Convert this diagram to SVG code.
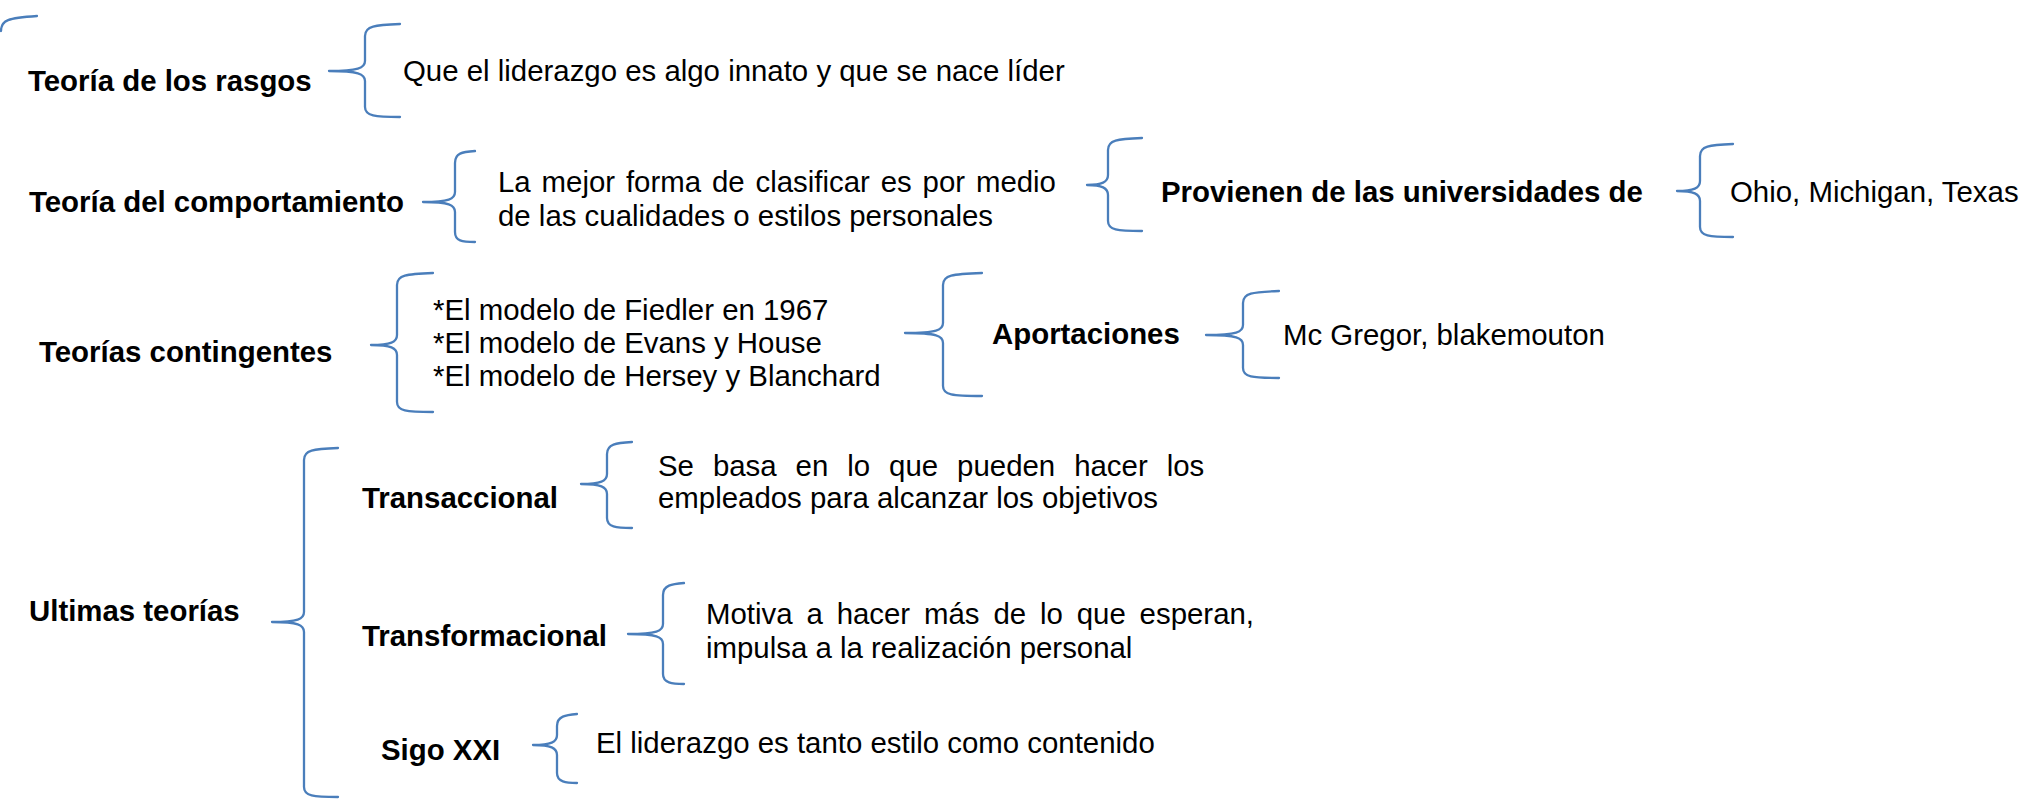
<svg xmlns="http://www.w3.org/2000/svg" width="2039" height="804" viewBox="0 0 2039 804">
<style>
.br{fill:none;stroke:#4A7EBB;stroke-width:2.3;stroke-linecap:round;stroke-linejoin:round}
text{font-family:"Liberation Sans",Arial,sans-serif;font-size:29.4px;fill:#000}
.b{font-weight:bold}
</style>
<rect width="2039" height="804" fill="#fff"/>
<g id="connectors">
<path class="br" d="M1,31 C1,20 8,18 37,16"/>
<path class="br" d="M400,24 C375,25 365,26 365,36 L365,61 C365,68 358,71 329,71 C358,71 365,74 365,81 L365,107 C365,116 375,117 400,117"/>
<path class="br" d="M475,151 C462,152 455,153 455,163 L455,192 C455,199 449,202 423,202 C449,202 455,205 455,212 L455,232 C455,241 462,242 475,242"/>
<path class="br" d="M1142,138 C1117,139 1108,140 1108,150 L1108,175 C1108,182 1102,185 1087,185 C1102,185 1108,188 1108,195 L1108,221 C1108,230 1117,231 1142,231"/>
<path class="br" d="M1733,144 C1709,145 1700,146 1700,156 L1700,181 C1700,188 1694,191 1677,191 C1694,191 1700,194 1700,201 L1700,227 C1700,236 1709,237 1733,237"/>
<path class="br" d="M433,273 C406,274 397,275 397,285 L397,335 C397,342 391,345 371,345 C391,345 397,348 397,355 L397,402 C397,411 406,412 433,412"/>
<path class="br" d="M982,273 C952,274 943,275 943,285 L943,323 C943,330 937,333 905,333 C937,333 943,336 943,343 L943,386 C943,395 952,396 982,396"/>
<path class="br" d="M1279,291 C1252,292 1243,293 1243,303 L1243,325 C1243,332 1237,335 1206,335 C1237,335 1243,338 1243,345 L1243,368 C1243,377 1252,378 1279,378"/>
<path class="br" d="M338,448 C313,449 304,450 304,460 L304,612 C304,619 298,622 272,622 C298,622 304,625 304,632 L304,787 C304,796 313,797 338,797"/>
<path class="br" d="M632,442 C616,443 607,444 607,454 L607,474 C607,481 601,484 581,484 C601,484 607,487 607,494 L607,518 C607,527 616,528 632,528"/>
<path class="br" d="M684,583 C672,584 663,585 663,595 L663,624 C663,631 657,634 628,634 C657,634 663,637 663,644 L663,674 C663,683 672,684 684,684"/>
<path class="br" d="M577,714 C566,715 557,716 557,726 L557,735 C557,742 551,745 533,745 C551,745 557,748 557,755 L557,773 C557,782 566,783 577,783"/>
</g>
<g id="n-rasgos"><text class="b" x="28" y="91">Teoría de los rasgos</text></g>
<g id="n-rasgos-desc"><text x="403" y="81">Que el liderazgo es algo innato y que se nace líder</text></g>
<g id="n-comport"><text class="b" x="29" y="212">Teoría del comportamiento</text></g>
<g id="n-comport-desc"><text x="498" y="192" word-spacing="2.7">La mejor forma de clasificar es por medio</text><text x="498" y="226">de las cualidades o estilos personales</text></g>
<g id="n-provienen"><text class="b" x="1161" y="202">Provienen de las universidades de</text></g>
<g id="n-univ"><text x="1730" y="202">Ohio, Michigan, Texas</text></g>
<g id="n-conting"><text class="b" x="39" y="362">Teorías contingentes</text></g>
<g id="n-modelos"><text x="433" y="320">*El modelo de Fiedler en 1967</text><text x="433" y="353">*El modelo de Evans y House</text><text x="433" y="386">*El modelo de Hersey y Blanchard</text></g>
<g id="n-aport"><text class="b" x="992" y="344">Aportaciones</text></g>
<g id="n-aport-desc"><text x="1283" y="345">Mc Gregor, blakemouton</text></g>
<g id="n-ultimas"><text class="b" x="29" y="621">Ultimas teorías</text></g>
<g id="n-transacc"><text class="b" x="362" y="508">Transaccional</text></g>
<g id="n-transacc-desc"><text x="658" y="476" word-spacing="10.8">Se basa en lo que pueden hacer los</text><text x="658" y="508">empleados para alcanzar los objetivos</text></g>
<g id="n-transf"><text class="b" x="362" y="646">Transformacional</text></g>
<g id="n-transf-desc"><text x="706" y="624" word-spacing="5.7">Motiva a hacer más de lo que esperan,</text><text x="706" y="658">impulsa a la realización personal</text></g>
<g id="n-siglo"><text class="b" x="381" y="760">Sigo XXI</text></g>
<g id="n-siglo-desc"><text x="596" y="753">El liderazgo es tanto estilo como contenido</text></g>
</svg>
